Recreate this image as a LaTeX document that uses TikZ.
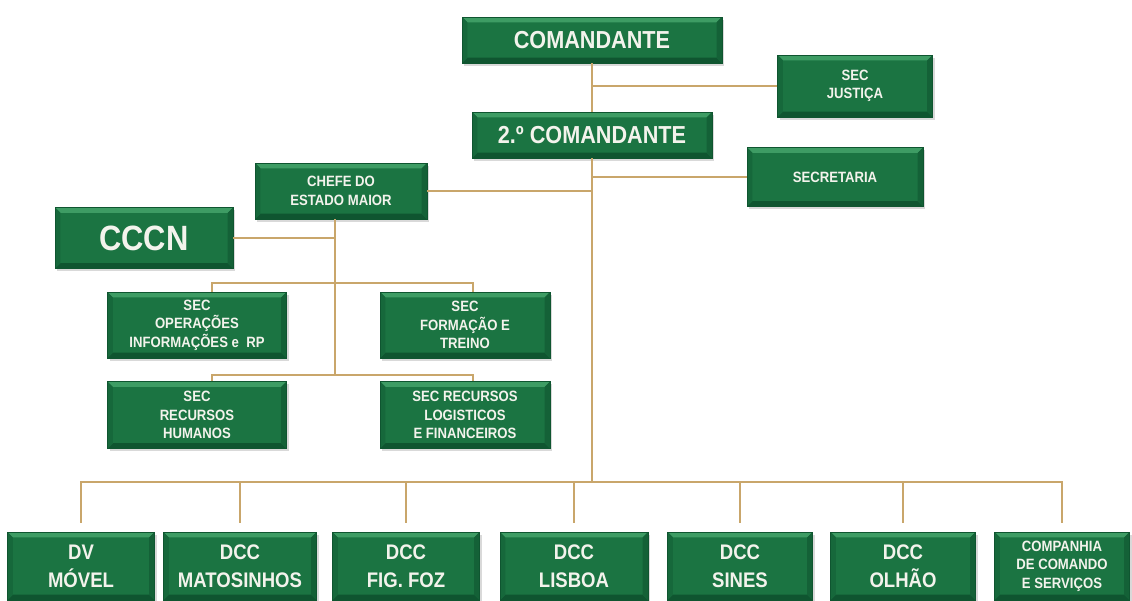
\documentclass[tikz,border=0pt]{standalone}
\usepackage{fontspec}
\setmainfont{Liberation Sans}[FakeStretch=0.88]
\usetikzlibrary{positioning,calc,shadows}
\definecolor{BoxGreen}{HTML}{1B7442}
\definecolor{BoxDark}{HTML}{0F5530}
\definecolor{BoxLight}{HTML}{3E9C64}
\definecolor{LinkTan}{HTML}{C9A66B}
\definecolor{LabelWhite}{HTML}{F3F3EC}

\begin{document}
\begin{tikzpicture}[x=0.02cm,y=-0.02cm,
  unit/.style={draw=BoxDark,line width=0.3pt,fill=BoxGreen,text=LabelWhite,align=center,inner sep=1pt,
    drop shadow={opacity=0.3,shadow xshift=1.2pt,shadow yshift=-1.5pt},
    path picture={
      \fill[BoxLight] (path picture bounding box.north west) -- (path picture bounding box.north east)
        -- ([shift={(-3pt,-3pt)}]path picture bounding box.north east) -- ([shift={(3pt,-3pt)}]path picture bounding box.north west) -- cycle;
      \fill[BoxDark] (path picture bounding box.south west) -- (path picture bounding box.south east)
        -- ([shift={(-3pt,3pt)}]path picture bounding box.south east) -- ([shift={(3pt,3pt)}]path picture bounding box.south west) -- cycle;
      \fill[BoxDark!60!BoxGreen] (path picture bounding box.north east) -- (path picture bounding box.south east)
        -- ([shift={(-3pt,3pt)}]path picture bounding box.south east) -- ([shift={(-3pt,-3pt)}]path picture bounding box.north east) -- cycle;
      \fill[BoxDark!40!BoxGreen] (path picture bounding box.north west) -- (path picture bounding box.south west)
        -- ([shift={(3pt,3pt)}]path picture bounding box.south west) -- ([shift={(3pt,-3pt)}]path picture bounding box.north west) -- cycle;
    }},
  small/.style={unit,font=\fontsize{8.5}{10.5}\selectfont\bfseries},
  large/.style={unit,font=\fontsize{14}{16}\selectfont\bfseries},
  base/.style={unit,font=\fontsize{12}{16}\selectfont\bfseries,minimum height=1.36cm},
  link/.style={draw=LinkTan,line width=1.1pt}]
  \useasboundingbox (0,0) rectangle (1132,600);

  \node[large,minimum width=5.2cm,minimum height=0.92cm] (com) at (592,40) {COMANDANTE};
  \node[small,minimum width=3.1cm,minimum height=1.24cm] (jus) at (855,86) {SEC\\JUSTIÇA};
  \node[large,minimum width=4.8cm,minimum height=0.92cm] (com2) at (592,135) {2.º COMANDANTE};
  \node[small,minimum width=3.52cm,minimum height=1.18cm] (sec) at (835,177) {SECRETARIA};
  \node[small,minimum width=3.44cm,minimum height=1.12cm] (chefe) at (341,191) {CHEFE DO\\ESTADO MAIOR};
  \node[unit,font=\fontsize{20}{22}\selectfont\bfseries,minimum width=3.56cm,minimum height=1.22cm] (cccn) at (144,238) {CCCN};
  \node[small,minimum width=3.58cm,minimum height=1.32cm] (oper) at (197,325) {SEC\\OPERAÇÕES\\INFORMAÇÕES e~~RP};
  \node[small,minimum width=3.4cm,minimum height=1.32cm] (form) at (465,325) {SEC\\FORMAÇÃO E\\TREINO};
  \node[small,minimum width=3.58cm,minimum height=1.34cm] (rh) at (197,415) {SEC\\RECURSOS\\HUMANOS};
  \node[small,minimum width=3.4cm,minimum height=1.34cm] (rlf) at (465,415) {SEC RECURSOS\\LOGISTICOS\\E FINANCEIROS};

  \node[base,minimum width=2.94cm] (dv) at (81,566) {DV\\MÓVEL};
  \node[base,minimum width=3.06cm] (mat) at (240,566) {DCC\\MATOSINHOS};
  \node[base,minimum width=2.94cm] (fig) at (406,566) {DCC\\FIG. FOZ};
  \node[base,minimum width=2.96cm] (lis) at (574,566) {DCC\\LISBOA};
  \node[base,minimum width=2.9cm] (sin) at (740,566) {DCC\\SINES};
  \node[base,minimum width=2.9cm] (olh) at (903,566) {DCC\\OLHÃO};
  \node[base,minimum width=2.7cm,font=\fontsize{8.5}{10.5}\selectfont\bfseries] (cia) at (1062,566) {COMPANHIA\\DE COMANDO\\E SERVIÇOS};

  \coordinate (hub) at (592,482);
  \coordinate (spine) at (335,375);
  \coordinate (busa) at (335,283);
  \draw[link] (com) -- (com2);
  \draw[link] (jus) -- (jus -| com);
  \draw[link] (sec) -- (sec -| com2);
  \draw[link] (chefe) -- (chefe -| com2);
  \draw[link] (com2) -- (hub);
  \draw[link] (chefe.south -| spine) -- (spine);
  \draw[link] (cccn) -- (cccn -| spine);
  \draw[link] ($(oper.north)+(15,0)$) |- (busa) -| ($(form.north)+(8,0)$);
  \draw[link] ($(rh.north)+(15,0)$) |- (spine) -| ($(rlf.north)+(8,0)$);
  \foreach \n in {dv,mat,fig,lis,sin,olh,cia}{\draw[link,shorten >=0.18cm] (hub) -| (\n.north);}
\end{tikzpicture}
\end{document}
